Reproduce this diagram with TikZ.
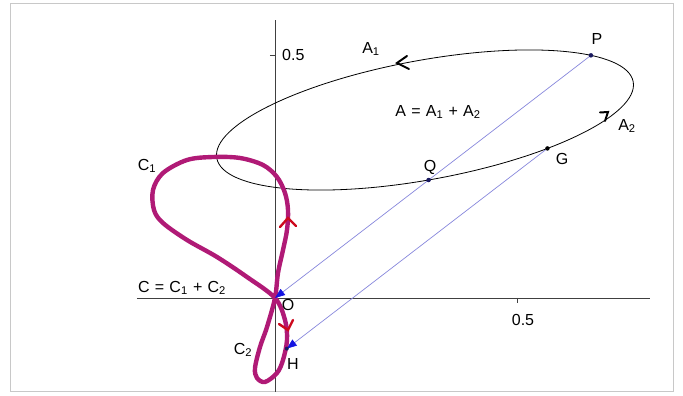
\documentclass[tikz,border=0pt]{standalone}
\usepackage{fontspec}
\setmainfont{Liberation Sans}
\usetikzlibrary{arrows.meta,calc,intersections}
\definecolor{magC}{RGB}{176,26,118}
\definecolor{redA}{RGB}{205,10,30}
\definecolor{vecline}{RGB}{135,135,220}
\definecolor{vectip}{RGB}{20,20,225}
\definecolor{ptcol}{RGB}{25,25,95}
\definecolor{framecol}{RGB}{200,200,200}
\newcommand{\gsp}{\hspace{0.33em}}
\begin{document}
\begin{tikzpicture}[x=1pt,y=1pt,
  lbl/.style={inner sep=0pt, font=\fontsize{16}{18}\selectfont},
  axis/.style={draw=black!75, line width=0.8pt},
  curveC/.style={draw=magC, line width=4.4pt, line join=round},
  vec/.style={draw=vecline, line width=0.7pt, -{Triangle[length=10pt,width=7.5pt,color=vectip]}},
  chev/.style={line width=2.4pt, line cap=round, line join=miter},
  dot/.style={circle, fill=ptcol, inner sep=0pt, minimum size=4.5pt}
]
\useasboundingbox (-275,-98) rectangle (408,298);
% frame
\draw[framecol, line width=1pt] (-264,-94) rectangle (398,294);
% axes
\coordinate (O) at (0,0);
\draw[axis] (-138,0) -- (375,0);
\draw[axis] (0,-94) -- (0,278);
\draw[axis] (242,0) -- (242,-5);
\draw[axis] (-5,243) -- (0,243);
\node[lbl] (xt) at (248,-22) {0.5};
\node[lbl, anchor=west] (yt) at (7,243) {0.5};
% ellipse
\begin{scope}[shift={(150,178)}, rotate=10.4]
  \draw[name path global=ell, line width=0.8pt] (0,0) ellipse [x radius=211.7, y radius=59.7];
  \coordinate (P) at (34.3:211.7 and 59.7);
  \coordinate (G) at (-57:211.7 and 59.7);
\end{scope}
\path[name path=po] (O) -- ($(O)!0.8!(P)$);
\path[name intersections={of=ell and po, by={Q}}];
\coordinate (H) at ($(G)-0.825*(P)$);
% curve C
\draw[curveC] plot[smooth cycle, tension=0.55] coordinates {
  (0,0) (10,-22) (12,-42) (8,-62) (2,-75) (-10,-84) (-18,-80) (-20,-70) (-15,-49) (-8,-29)
  (0,0) (3,25) (8,48) (12,68) (13,88) (10,105) (2,121) (-12,133) (-35,140) (-62,141)
  (-88,138) (-112,125) (-122,108) (-121,88) (-112,75) (-88,58) (-58,41) (-28,21)};
% red chevrons
\draw[chev, redA] (5,71) -- (13,80) -- (21,72);
\draw[chev, redA] (4,-26) -- (13,-32) -- (18,-22);
% black chevrons on ellipse
\draw[chev, black, line width=2pt] (132,242) -- (122,235) -- (134,229);
\draw[chev, black, line width=2pt] (325,185.5) -- (333,186) -- (330,177);
% vectors
\draw[vec] (P) -- (O);
\draw[vec] (G) -- (H);
% points
\node[dot] (Pd) at (P) {};
\node[dot] (Qd) at (Q) {};
\node[dot, fill=black] (Gd) at (G) {};
\node[dot, minimum size=4pt] (Hd) at (H) {};
% labels
\node[lbl] (lP) at (322,259) {P};
\node[lbl] (lQ) at (155,131) {Q};
\node[lbl] (lG) at (287,139) {G};
\node[lbl] (lA1) at (96,249) {A\textsubscript{1}};
\node[lbl] (lA) at (163,186) {A\gsp=\gsp A\textsubscript{1}\gsp+\gsp A\textsubscript{2}};
\node[lbl] (lA2) at (352,172) {A\textsubscript{2}};
\node[lbl] (lC1) at (-128,132) {C\textsubscript{1}};
\node[lbl] (lC) at (-93,10) {C\gsp=\gsp C\textsubscript{1}\gsp+\gsp C\textsubscript{2}};
\node[lbl] (lO) at (13,-7) {O};
\node[lbl] (lC2) at (-32,-52) {C\textsubscript{2}};
\node[lbl] (lH) at (18,-66) {H};
\end{tikzpicture}
\end{document}
